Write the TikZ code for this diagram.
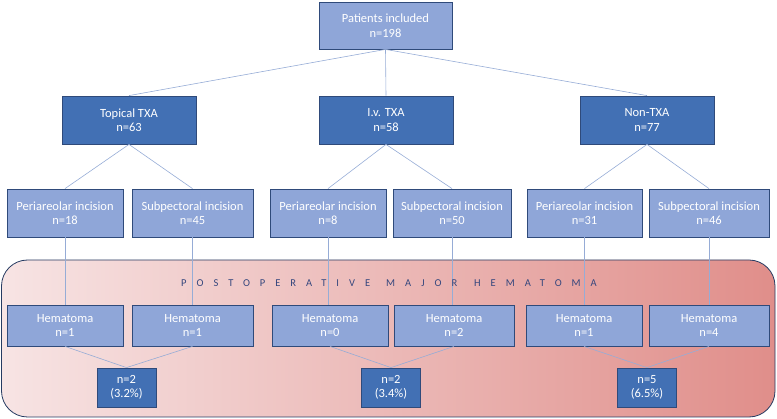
\documentclass[tikz,border=0pt]{standalone}
\usepackage{fontspec}
\setmainfont{Carlito}
\newfontfamily\spacedfont[LetterSpace=95]{Carlito}
\definecolor{darkbox}{RGB}{66,112,180}
\definecolor{lightbox}{RGB}{143,166,216}
\definecolor{boxborder}{RGB}{47,74,122}
\definecolor{conn}{RGB}{150,172,214}
\definecolor{titlecol}{RGB}{52,70,125}
\definecolor{bgleft}{RGB}{247,228,228}
\definecolor{bgright}{RGB}{224,142,138}
\tikzset{
  base/.style={draw=boxborder, line width=0.8pt, text=white, align=center, inner sep=1pt,
    font=\fontsize{12.5}{14.5}\selectfont},
  darkbx/.style={base, fill=darkbox, minimum width=134pt, minimum height=48pt},
  topbx/.style={base, fill=lightbox, minimum width=133pt, minimum height=47pt},
  incbx/.style={base, fill=lightbox, minimum height=48pt},
  hembx/.style={base, fill=lightbox, minimum height=41pt},
  resbx/.style={base, fill=darkbox, minimum width=59pt, minimum height=39pt},
  link/.style={draw=conn, line width=0.6pt},
  titletxt/.style={text=titlecol, font=\spacedfont\fontsize{10.5}{12}\selectfont, anchor=base west, inner sep=0pt}
}
\begin{document}
\begin{tikzpicture}[x=1pt,y=-1pt]
\useasboundingbox (0,0) rectangle (777,419);
% background panel
\shade[left color=bgleft, right color=bgright, rounded corners=26pt] (1.5,260) rectangle (775,417);
\draw[draw=boxborder!80!black, line width=0.8pt, rounded corners=26pt] (1.5,260) rectangle (775,417);
% nodes
\node[topbx] (top) at (385.5,25.5) {Patients included\\n=198};
\node[darkbx] (t) at (129,120) {Topical TXA\\n=63};
\node[darkbx] (i) at (386,120) {I.v. TXA\\n=58};
\node[darkbx] (n) at (647,120) {Non-TXA\\n=77};
\node[incbx, minimum width=116pt] (tp) at (65,213) {Periareolar incision\\n=18};
\node[incbx, minimum width=121pt] (ts) at (192.5,213) {Subpectoral incision\\n=45};
\node[incbx, minimum width=116pt] (ip) at (328,213) {Periareolar incision\\n=8};
\node[incbx, minimum width=118pt] (is) at (452,213) {Subpectoral incision\\n=50};
\node[incbx, minimum width=115pt] (np) at (584.5,213) {Periareolar incision\\n=31};
\node[incbx, minimum width=120pt] (ns) at (709,213) {Subpectoral incision\\n=46};
\node[hembx, minimum width=116pt] (th1) at (65,325.5) {Hematoma\\n=1};
\node[hembx, minimum width=121pt] (th2) at (192.5,325.5) {Hematoma\\n=1};
\node[hembx, minimum width=116pt] (ih1) at (330,325.5) {Hematoma\\n=0};
\node[hembx, minimum width=120pt] (ih2) at (454,325.5) {Hematoma\\n=2};
\node[hembx, minimum width=116pt] (nh1) at (584,325.5) {Hematoma\\n=1};
\node[hembx, minimum width=120pt] (nh2) at (709,325.5) {Hematoma\\n=4};
\node[resbx] (tr) at (126.5,387.5) {n=2\\(3.2\%)};
\node[resbx] (ir) at (391,387.5) {n=2\\(3.4\%)};
\node[resbx] (nr) at (647,387.5) {n=5\\(6.5\%)};
% connectors
\foreach \a/\b in {top/t,top/i,top/n,t/tp,t/ts,i/ip,i/is,n/np,n/ns,th1/tr,th2/tr,ih1/ir,ih2/ir,nh1/nr,nh2/nr}
  \draw[link] (\a.south) -- (\b.north);
\draw[link] (tp.south) -- (tp.south |- th1.north);
\draw[link] (ts.south) -- (ts.south |- th2.north);
\draw[link] (ip.south) -- (ip.south |- ih1.north);
\draw[link] (is.south) -- (is.south |- ih2.north);
\draw[link] (np.south) -- (np.south |- nh1.north);
\draw[link] (ns.south) -- (ns.south |- nh2.north);
% title
\node[titletxt] (w1) at (181,287) {POSTOPERATIVE};
\node[titletxt] (w2) at (386,287) {MAJOR};
\node[titletxt] (w3) at (474,287) {HEMATOMA};
\end{tikzpicture}
\end{document}
